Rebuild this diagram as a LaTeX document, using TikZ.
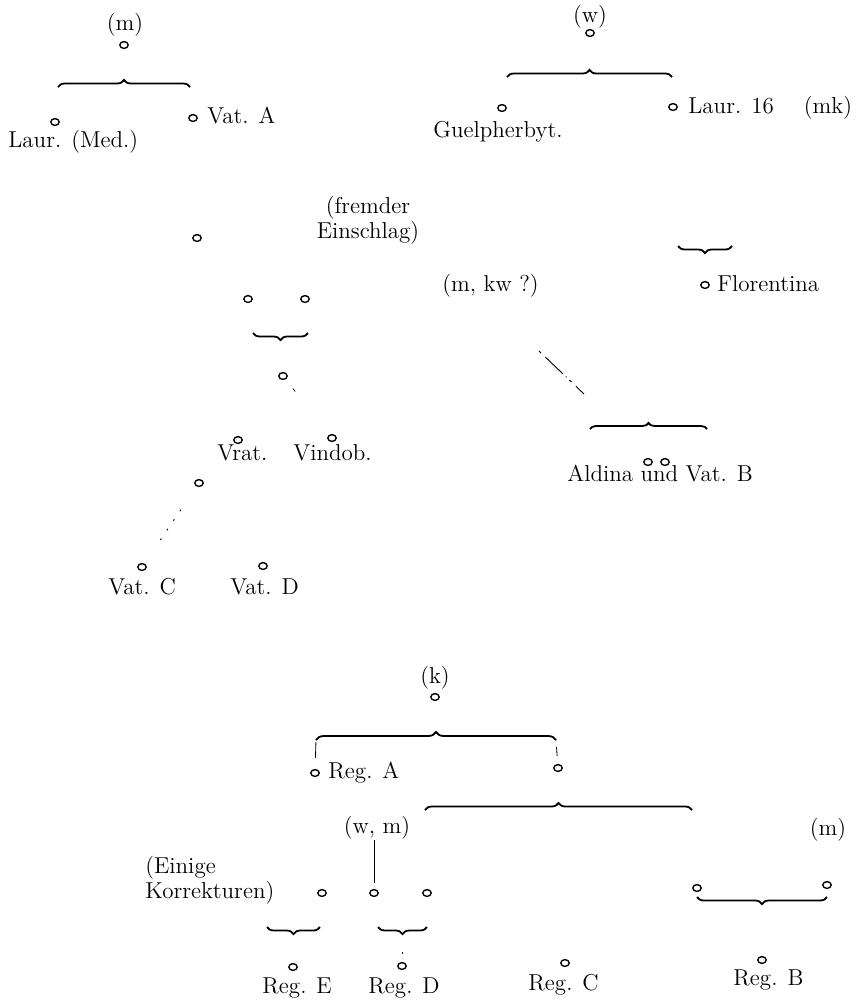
\documentclass[tikz,border=0pt]{standalone}
\usetikzlibrary{shapes.geometric,decorations.pathreplacing}
\tikzset{
  hs/.style={draw, ellipse, line width=0.7pt, minimum width=4.2pt, minimum height=3.4pt, inner sep=0pt},
  txt/.style={inner sep=0pt, font=\fontsize{11.5}{11.5}\selectfont},
  klo/.style={decorate, decoration={brace, amplitude=#1}, line width=0.9pt},
  klo/.default=3.5pt,
  klu/.style={decorate, decoration={brace, mirror, amplitude=#1}, line width=0.9pt},
  klu/.default=3.5pt,
  strich/.style={line width=0.4pt},
  punkte/.style={line width=0.5pt, dash pattern=on 0.8pt off 5pt},
  strichpunkt/.style={line width=0.45pt, dash pattern=on 1.5pt off 3pt on 12pt off 2pt on 0.5pt off 2pt},
}

\begin{document}
\begin{tikzpicture}[x=0.5pt,y=-0.5pt]
\useasboundingbox (0,0) rectangle (860,1003);
% Gruppe (m)
\node[txt, anchor=base] (tm) at (125,30) {(m)};
\node[hs] (hm) at (124,45) {};
\coordinate (km1) at (58,87); \coordinate (km2) at (190,87);
\draw[klo] (km1) -- (km2);
\node[hs] (hlm) at (55,122) {};
\node[txt, anchor=base west] (tlm) at (8,147) {Laur. (Med.)};
\node[hs] (hva) at (193,118) {};
\node[txt, anchor=base west] (tva) at (207,123) {Vat. A};
\node[txt, align=center] (tfe) at (368,220) {(fremder\\Einschlag)};
\node[hs] (hfe) at (197,238) {};

% Gruppe (w)
\node[txt, anchor=base] (tw) at (590,22) {(w)};
\node[hs] (hw) at (590,33) {};
\coordinate (kw1) at (507,77); \coordinate (kw2) at (672,77);
\draw[klo] (kw1) -- (kw2);
\node[hs] (hgu) at (502,108) {};
\node[txt, anchor=base] (tgu) at (498,137) {Guelpherbyt.};
\node[hs] (hl16) at (673,107) {};
\node[txt, anchor=base west] (tl16) at (688,113) {Laur. 16};
\node[txt, anchor=base] (tmk) at (828,113) {(mk)};

% Mitte links
\node[hs] (ha1) at (248,299) {};
\node[hs] (ha2) at (305,299) {};
\coordinate (ka1) at (253,333); \coordinate (ka2) at (308,333);
\draw[klu] (ka1) -- (ka2);
\node[hs] (hab) at (283,376) {};
\node[hs] (hvr) at (238,440) {};
\node[txt, anchor=base west] (tvr) at (217,460) {Vrat.};
\node[hs] (hvi) at (332,438) {};
\node[txt, anchor=base west] (tvi) at (293,460) {Vindob.};
\draw[strich, shorten <=5.8pt, shorten >=27.5pt] (hab) -- (hvi);
\node[hs] (hx) at (199,483) {};
\node[hs] (hvc) at (142,567) {};
\node[txt, anchor=base west] (tvc) at (108,594) {Vat. C};
\node[hs] (hvd) at (263,566) {};
\node[txt, anchor=base west] (tvd) at (230,594) {Vat. D};
\draw[punkte, shorten <=14pt, shorten >=14pt] (hx) -- (hvc);

% Mitte rechts
\coordinate (kf1) at (678,246); \coordinate (kf2) at (732,246);
\draw[klu] (kf1) -- (kf2);
\node[hs] (hfl) at (705,285) {};
\node[txt, anchor=base west] (tfl) at (717,291) {Florentina};
\node[txt, anchor=base west] (tkw) at (442,291) {(m, kw ?)};
\coordinate (kwa) at (539,351); \coordinate (kwb) at (584,394);
\draw[strichpunkt] (kwa) -- (kwb);
\coordinate (kal1) at (590,429); \coordinate (kal2) at (707,429);
\draw[klo=3pt] (kal1) -- (kal2);
\node[hs] (hal) at (648,462) {};
\node[hs] (hvb) at (665,462) {};
\node[txt, anchor=base west] (tal) at (567,481) {Aldina und Vat. B};

% Gruppe (k)
\node[txt, anchor=base] (tk) at (435,683) {(k)};
\node[hs] (hk) at (435,697) {};
\coordinate (kk1) at (316,740); \coordinate (kk2) at (556,740);
\draw[klo=4pt] (kk1) -- (kk2);
\node[hs] (hra) at (315,773) {};
\node[txt, anchor=base west] (tra) at (328,778) {Reg. A};
\node[hs] (hr) at (558,768) {};
\draw[strich, shorten <=1pt, shorten >=5.5pt] (kk1) -- (hra);
\draw[strich, shorten <=3.5pt, shorten >=4pt] (kk2) -- (hr);
\coordinate (kr1) at (425,810); \coordinate (kr2) at (692,810);
\draw[klo] (kr1) -- (kr2);
\node[txt, anchor=base] (twm) at (377,833) {(w, m)};
\node[txt, anchor=west, align=left] (tek) at (145,880) {(Einige\\Korrekturen)};
\node[hs] (he1) at (322,893) {};
\node[hs] (he2) at (374,893) {};
\node[hs] (he3) at (427,893) {};
\draw[strich, shorten <=0.5pt, shorten >=3pt] (twm.south -| he2) -- (he2);
\coordinate (ke1) at (267,927); \coordinate (ke2) at (320,927);
\draw[klu] (ke1) -- (ke2);
\coordinate (kd1) at (378,927); \coordinate (kd2) at (427,927);
\draw[klu] (kd1) -- (kd2);
\coordinate (kdt) at (402,934);
\node[hs] (hre) at (293,967) {};
\node[txt, anchor=base west] (tre) at (262,993) {Reg. E};
\node[hs] (hrd) at (402,966) {};
\node[txt, anchor=base west] (trd) at (368,993) {Reg. D};
\draw[strich, shorten <=9pt, shorten >=4pt] (kdt) -- (hrd);
\node[hs] (hrc) at (565,963) {};
\node[txt, anchor=base west] (trc) at (528,990) {Reg. C};
\node[txt, anchor=base] (tm2) at (828,835) {(m)};
\node[hs] (hb1) at (697,888) {};
\node[hs] (hb2) at (827,885) {};
\coordinate (kb1) at (697,897); \coordinate (kb2) at (827,897);
\draw[klu] (kb1) -- (kb2);
\node[hs] (hrb) at (762,960) {};
\node[txt, anchor=base west] (trb) at (733,985) {Reg. B};
\end{tikzpicture}
\end{document}
